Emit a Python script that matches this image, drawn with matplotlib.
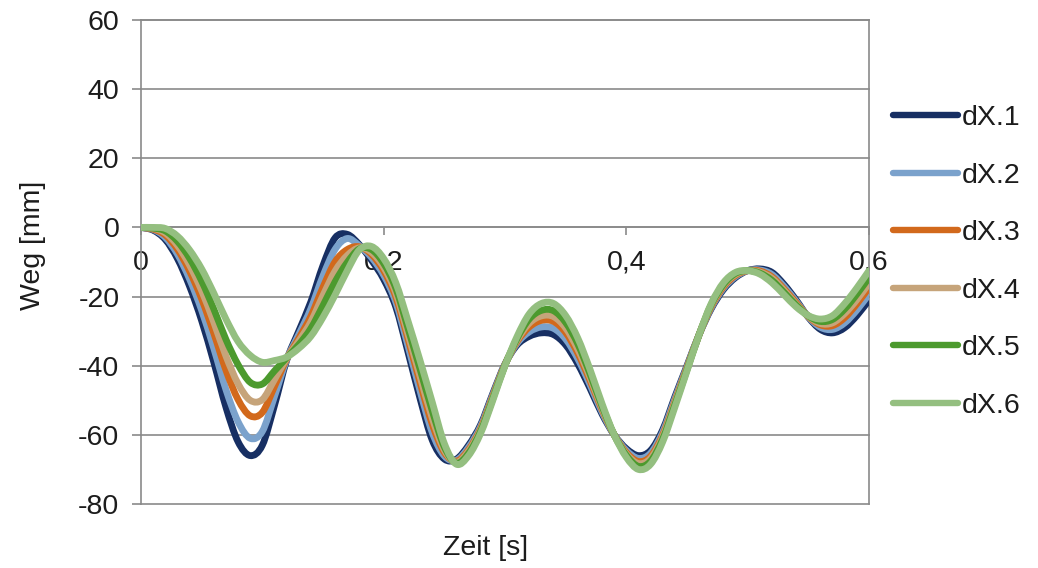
import numpy as np
import matplotlib
matplotlib.use("Agg")
import matplotlib.pyplot as plt
from matplotlib.path import Path
from matplotlib.patches import PathPatch
from matplotlib.lines import Line2D
from matplotlib.ticker import FuncFormatter

## Data ----------------------------------

zeit = [round(0.01 * i, 2) for i in range(61)]

dx1 = [0, -0.8, -3.5, -9, -17, -27, -39, -52, -62, -66,
       -63, -51.5, -38.5, -30, -21.5, -11, -3, -2, -5, -9.5,
       -15, -23, -36, -49.5, -61.5, -67, -67, -63, -57, -48,
       -39.5, -34, -31.5, -30.5, -31, -34, -39.5, -46.5, -54, -60,
       -64, -66, -64.5, -58.5, -49, -40, -31, -23.5, -18, -14.5,
       -12.5, -12, -13, -16.5, -21, -26, -29.5, -30.5, -29, -25.5,
       -21]
dx2 = [0, -0.6, -2.9, -7.7, -14.9, -24, -35, -46.9, -56.2, -61,
       -59, -48.9, -38.3, -31, -23.5, -14, -6.3, -3.2, -5.3, -8.7,
       -13.8, -21.6, -34.2, -47.3, -59.3, -66.1, -67.3, -63.6, -57.5, -48.4,
       -39.6, -33.5, -30.2, -28.8, -29.2, -32.3, -38, -45.4, -53.4, -60,
       -64.5, -66.8, -65.3, -59.2, -49.6, -40.3, -31, -23.2, -17.6, -14.2,
       -12.5, -12.3, -13.6, -17.1, -21.4, -25.9, -28.9, -29.5, -27.6, -23.9,
       -19.3]
dx3 = [0, -0.5, -2.2, -6.3, -12.6, -20.7, -30.6, -41.3, -49.8, -54.5,
       -53.5, -46, -38.1, -32.1, -25.7, -17.3, -9.9, -6.4, -5.6, -7.8,
       -12.5, -20.1, -32.2, -44.9, -56.9, -65.1, -67.6, -64.3, -58.1, -48.8,
       -39.7, -33, -28.8, -26.9, -27.2, -30.4, -36.4, -44.2, -52.7, -60,
       -65.1, -67.7, -66.2, -60, -50.3, -40.6, -31, -22.9, -17.2, -13.9,
       -12.5, -12.6, -14.3, -17.8, -21.8, -25.8, -28.2, -28.4, -26.1, -22.1,
       -17.4]
dx4 = [0, -0.3, -1.6, -5.2, -10.9, -18.3, -27.4, -37.2, -45.2, -50,
       -49.8, -44, -37.9, -32.9, -27.3, -19.7, -12.6, -8.1, -5.9, -7.2,
       -11.5, -18.9, -30.8, -43.1, -55.1, -64.4, -67.9, -64.7, -58.5, -49.2,
       -39.8, -32.6, -27.7, -25.6, -25.8, -29.1, -35.2, -43.3, -52.3, -60,
       -65.5, -68.3, -66.8, -60.5, -50.7, -40.9, -31, -22.6, -16.8, -13.6,
       -12.5, -12.9, -14.7, -18.2, -22.2, -25.7, -27.8, -27.6, -24.9, -20.9,
       -16.1]
dx5 = [0, -0.2, -1, -4, -8.9, -15.5, -23.6, -32.4, -39.7, -44.8,
       -45.3, -41.5, -37.7, -33.9, -29.2, -22.6, -15.7, -10.1, -6.2, -6.4,
       -10.4, -17.6, -29.1, -41, -53, -63.5, -68.2, -65.3, -58.9, -49.5,
       -39.9, -32.1, -26.5, -24, -24.1, -27.5, -33.7, -42.3, -51.7, -60,
       -65.9, -69.1, -67.6, -61.2, -51.3, -41.2, -31, -22.3, -16.5, -13.3,
       -12.5, -13.2, -15.3, -18.8, -22.5, -25.6, -27.2, -26.6, -23.6, -19.3,
       -14.5]
dx6 = [0, 0, -0.3, -2.5, -6.5, -12, -19, -26.5, -33, -37,
       -39, -38.5, -37.5, -35, -31.5, -26, -19.5, -12.5, -6.5, -5.5,
       -9, -16, -27, -38.5, -50.5, -62.5, -68.5, -66, -59.5, -50,
       -40, -31.5, -25, -22, -22, -25.5, -32, -41, -51, -60,
       -66.5, -70, -68.5, -62, -52, -41.5, -31, -22, -16, -13,
       -12.5, -13.5, -16, -19.5, -23, -25.5, -26.5, -25.5, -22, -17.5,
       -12.5]

namen = ["dX.1", "dX.2", "dX.3", "dX.4", "dX.5", "dX.6"]
farben = ["#172f63", "#7ba2cc", "#d2691c", "#c6a47a", "#4c9a2e", "#94bf80"]


## Helper functions ----------------------

# Smoothed line like the spreadsheet does it (Catmull-Rom -> Bezier)
def smooth_path(x, y):
    pts = np.column_stack([x, y]).astype(float)
    ext = np.vstack([pts[0], pts, pts[-1]])
    verts = [pts[0]]
    codes = [Path.MOVETO]
    for i in range(1, len(ext) - 2):
        p0, p1, p2, p3 = ext[i - 1], ext[i], ext[i + 1], ext[i + 2]
        verts += [p1 + (p2 - p0) / 6, p2 - (p3 - p1) / 6, p2]
        codes += [Path.CURVE4] * 3
    return Path(verts, codes)


def komma(v, pos):
    if abs(v) < 1e-9:
        return "0"
    return f"{v:.1f}".replace(".", ",")


## Plot ----------------------------------

plt.rcParams["font.family"] = ["Liberation Sans", "DejaVu Sans"]
plt.rcParams["axes.unicode_minus"] = False

grau = "#8a8a8a"
text_farbe = "#1c1c1c"
fs = 20.5

fig = plt.figure(figsize=(10.38, 5.68), dpi=100)
ax = fig.add_axes([141 / 1038, 64 / 568, 728 / 1038, 484 / 568])

for werte, farbe in zip([dx1, dx2, dx3, dx4, dx5, dx6], farben):
    ax.add_patch(PathPatch(smooth_path(zeit, werte), facecolor="none",
                           edgecolor=farbe, lw=4.9, capstyle="round",
                           joinstyle="round", zorder=3))

ax.set_xlim(0, 0.6)
ax.set_ylim(-80, 60)
ax.set_yticks(range(-80, 61, 20))
ax.set_xticks([0, 0.2, 0.4, 0.6])
ax.xaxis.set_major_formatter(FuncFormatter(komma))

ax.grid(axis="y", color=grau, lw=1.2)
for gl in ax.get_ygridlines():
    gl.set_clip_on(False)
ax.set_axisbelow(True)

ax.spines["bottom"].set_position(("data", 0))
for s in ["left", "right", "top", "bottom"]:
    ax.spines[s].set_color(grau)
    ax.spines[s].set_linewidth(1.2)

ax.tick_params(axis="y", direction="out", length=6.5, width=1.2, color=grau,
               labelsize=fs, labelcolor=text_farbe, pad=9)
ax.tick_params(axis="x", direction="out", length=6, width=1.2, color=grau,
               labelsize=fs, labelcolor=text_farbe, pad=10)

ax.set_ylabel("Weg [mm]", fontsize=fs, color=text_farbe)
ax.yaxis.set_label_coords(-(141 - 33) / 728, (504 - 245) / 484)
ax.yaxis.label.set_va("center")
ax.set_xlabel("Zeit [s]", fontsize=fs, color=text_farbe)
ax.xaxis.set_label_coords((486 - 141) / 728, -(548 - 504) / 484)
ax.xaxis.label.set_va("center")

handles = [Line2D([], [], color=f, lw=4.6, solid_capstyle="round")
           for f in farben]
fig.legend(handles, namen, loc="upper left",
           bbox_to_anchor=(893 / 1038, 1 - 105 / 568), frameon=False,
           fontsize=fs, handlelength=2.3, handletextpad=0.12,
           labelspacing=1.11, borderpad=0, borderaxespad=0,
           labelcolor=text_farbe)

fig.savefig("out.png", dpi=100)
